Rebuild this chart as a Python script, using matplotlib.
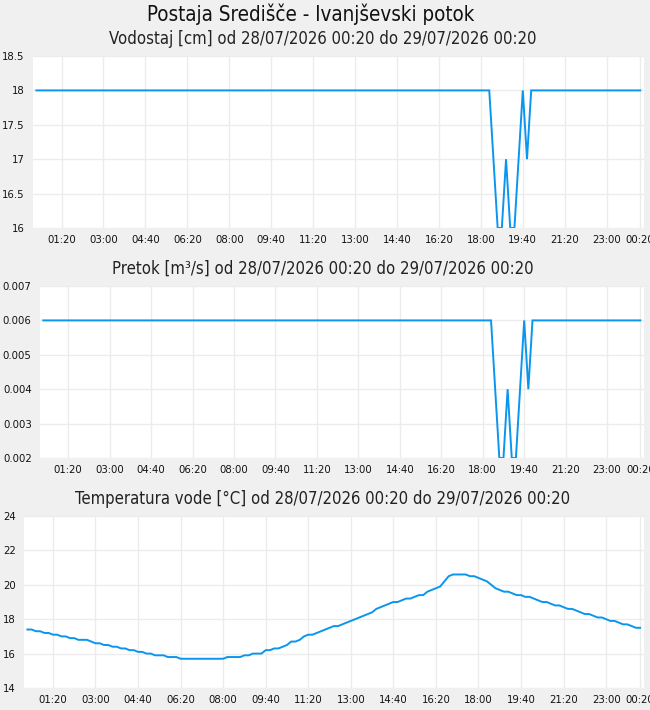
import matplotlib
matplotlib.use("Agg")
import matplotlib.pyplot as plt
import numpy as np

# minutes after 28/07/2026 00:20
level_t = [0, 1080, 1090, 1100, 1110, 1120, 1130, 1140, 1150, 1160, 1170, 1180, 1440]
level_cm = [18, 18, 17, 16, 16, 17, 16, 16, 17, 18, 17, 18, 18]
flow_m3s = [0.006, 0.006, 0.004, 0.002, 0.002, 0.004, 0.002, 0.002, 0.004, 0.006, 0.004, 0.006, 0.006]

# water temperature every 10 min, 00:20 -> 00:20
temp_c = [
    17.4, 17.4, 17.3, 17.3, 17.2, 17.2, 17.1, 17.1, 17.0, 17.0, 16.9, 16.9,
    16.8, 16.8, 16.8, 16.7, 16.6, 16.6, 16.5, 16.5, 16.4, 16.4, 16.3, 16.3,
    16.2, 16.2, 16.1, 16.1, 16.0, 16.0, 15.9, 15.9, 15.9, 15.8, 15.8, 15.8,
    15.7, 15.7, 15.7, 15.7, 15.7, 15.7, 15.7, 15.7, 15.7, 15.7, 15.7, 15.8,
    15.8, 15.8, 15.8, 15.9, 15.9, 16.0, 16.0, 16.0, 16.2, 16.2, 16.3, 16.3,
    16.4, 16.5, 16.7, 16.7, 16.8, 17.0, 17.1, 17.1, 17.2, 17.3, 17.4, 17.5,
    17.6, 17.6, 17.7, 17.8, 17.9, 18.0, 18.1, 18.2, 18.3, 18.4, 18.6, 18.7,
    18.8, 18.9, 19.0, 19.0, 19.1, 19.2, 19.2, 19.3, 19.4, 19.4, 19.6, 19.7,
    19.8, 19.9, 20.2, 20.5, 20.6, 20.6, 20.6, 20.6, 20.5, 20.5, 20.4, 20.3,
    20.2, 20.0, 19.8, 19.7, 19.6, 19.6, 19.5, 19.4, 19.4, 19.3, 19.3, 19.2,
    19.1, 19.0, 19.0, 18.9, 18.8, 18.8, 18.7, 18.6, 18.6, 18.5, 18.4, 18.3,
    18.3, 18.2, 18.1, 18.1, 18.0, 17.9, 17.9, 17.8, 17.7, 17.7, 17.6, 17.5,
    17.5,
]
temp_t = np.arange(len(temp_c)) * 10

tick_min = [60, 160, 260, 360, 460, 560, 660, 760, 860, 960, 1060, 1160, 1260, 1360, 1440]
tick_lbl = ["01:20", "03:00", "04:40", "06:20", "08:00", "09:40", "11:20", "13:00",
            "14:40", "16:20", "18:00", "19:40", "21:20", "23:00", "00:20"]

titles = ["Vodostaj [cm] od 28/07/2026 00:20 do 29/07/2026 00:20",
          "Pretok [m³/s] od 28/07/2026 00:20 do 29/07/2026 00:20",
          "Temperatura vode [°C] od 28/07/2026 00:20 do 29/07/2026 00:20"]

W, H = 650, 710
fig = plt.figure(figsize=(6.5, 7.1), dpi=100, facecolor="#f0f0f0")
boxes = [(33, 56, 644, 228), (40, 286, 644, 458), (24, 516, 644, 688)]
series = [(level_t, level_cm, [16, 16.5, 17, 17.5, 18, 18.5], ["16", "16.5", "17", "17.5", "18", "18.5"]),
          (level_t, flow_m3s, [0.002, 0.003, 0.004, 0.005, 0.006, 0.007],
           ["0.002", "0.003", "0.004", "0.005", "0.006", "0.007"]),
          (temp_t, temp_c, [14, 16, 18, 20, 22, 24], ["14", "16", "18", "20", "22", "24"])]
col = "#0a96ee"

for i, ((l, t, r, b), (x, y, yt, ytl)) in enumerate(zip(boxes, series)):
    ax = fig.add_axes([l / W, 1 - b / H, (r - l) / W, (b - t) / H])
    ax.set_facecolor("white")
    ax.plot(x, y, color=col, lw=1.4, solid_joinstyle="miter")
    ax.set_xlim(-8, 1449)
    ax.set_ylim(yt[0], yt[-1])
    ax.set_xticks(tick_min)
    ax.set_xticklabels(tick_lbl)
    ax.set_yticks(yt)
    ax.set_yticklabels(ytl)
    ax.grid(True, color="#ececec", lw=1)
    ax.set_axisbelow(True)
    for s in ax.spines.values():
        s.set_visible(False)
    ax.tick_params(length=0, labelsize=7.3, colors="#111111", pad=5)
    ax.tick_params(axis="y", pad=6)
    fig.text(0.497, 1 - (t - 17) / H, titles[i], ha="center", va="center",
             fontsize=12, color="#222222", fontstretch="condensed")

fig.text(0.478, 1 - 14 / H, "Postaja Središče - Ivanjševski potok", ha="center", va="center",
         fontsize=14.8, color="#111111", fontstretch="condensed")

fig.savefig("out.png", dpi=100, facecolor=fig.get_facecolor())
